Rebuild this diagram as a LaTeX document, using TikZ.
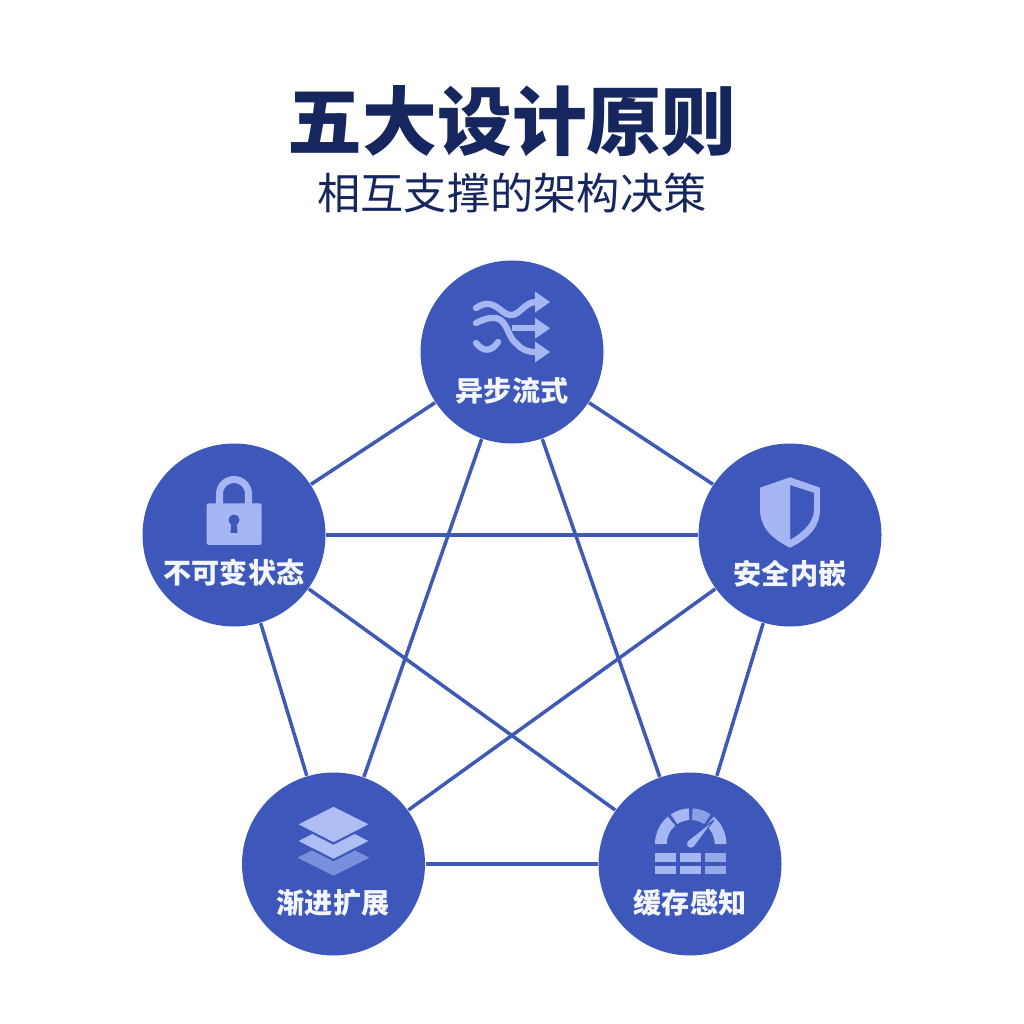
\documentclass[tikz,border=0pt]{standalone}
\usepackage{fontspec}
\usepackage{xcolor}
\setmainfont{Noto Sans CJK SC}
\usetikzlibrary{arrows.meta,positioning}
\definecolor{titleblue}{HTML}{16265F}
\definecolor{nodeblue}{HTML}{3D58BA}
\definecolor{linkblue}{HTML}{3F59B6}
\definecolor{iconblue}{HTML}{A5B6F3}
\definecolor{labelwhite}{HTML}{F4F6FE}
\tikzset{%
	principle/.style = {circle, fill=nodeblue, minimum size=1.83cm, inner sep=0pt}, % Circle
	caption/.style   = {text=labelwhite, font=\fontsize{8}{8}\selectfont\bfseries, inner sep=0pt},
	link/.style      = {draw=linkblue, line width=1pt},
	icon/.style      = {fill=iconblue, draw=none},
	flow/.style      = {draw=iconblue, line width=1.8pt, line cap=round},
}
\begin{document}
\begin{tikzpicture}[x=0.1cm,y=-0.1cm]
	\useasboundingbox (0,0) rectangle (102.4,102.4);
	\node [text=titleblue,font=\fontsize{21.3}{21.3}\selectfont\bfseries,inner sep=0pt] (title) at (51.2,12.1) {五大设计原则};
	\node [text=titleblue,font=\fontsize{12.3}{12.3}\selectfont,inner sep=0pt] (subtitle) at (51.2,19.3) {相互支撑的架构决策};

	\node [principle] (async) at (51.2,35.2) {};
	\node [principle] (state) at (23.4,53.5) {};
	\node [principle] (secure) at (79,53.5) {};
	\node [principle] (scale) at (33.35,86.4) {};
	\node [principle] (cache) at (69,86.4) {};

	\node [caption] (asynctxt) at (51.2,39.1) {异步流式};
	\node [caption] (statetxt) at (23.4,57.3) {不可变状态};
	\node [caption] (securetxt) at (79,57.4) {安全内嵌};
	\node [caption] (scaletxt) at (33.3,90.3) {渐进扩展};
	\node [caption] (cachetxt) at (69,90.3) {缓存感知};

	\draw [link] (async) -- (state);
	\draw [link] (async) -- (secure);
	\draw [link] (async) -- (scale);
	\draw [link] (async) -- (cache);
	\draw [link] (state) -- (secure);
	\draw [link] (state) -- (scale);
	\draw [link] (state) -- (cache);
	\draw [link] (secure) -- (scale);
	\draw [link] (secure) -- (cache);
	\draw [link] (scale) -- (cache);

	% shuffle arrows
	\draw [flow] (47.6,30.8) .. controls (49.4,29.6) and (50,31.4) .. (51,31.5) .. controls (52,31.6) and (52.4,30.2) .. (53.6,30.2);
	\draw [flow] (47.6,32.3) .. controls (51,30.6) and (50.4,33.6) .. (51.7,34.4) .. controls (52.2,35) and (52.8,35.2) .. (53.6,35.2);
	\draw [flow] (47.6,34.3) .. controls (48.4,35.3) and (49.2,35.1) .. (49.8,34.2);
	\draw [flow,line cap=butt] (51.2,32.83) -- (53.6,32.83);
	\fill [icon] (53.5,29.15) -- (55,30.2) -- (53.5,31.25) -- cycle;
	\fill [icon] (53.5,31.78) -- (55,32.83) -- (53.5,33.88) -- cycle;
	\fill [icon] (53.5,34.15) -- (55,35.2) -- (53.5,36.25) -- cycle;

	% lock
	\draw [draw=iconblue,line width=2pt] (21.95,50.6) -- (21.95,49.4) arc (180:360:1.45) -- (24.85,50.6);
	\fill [icon,rounded corners=0.6] (20.67,50.33) rectangle (26.17,54.5);
	\fill [nodeblue] (23.4,52) circle (0.55);
	\fill [nodeblue] (23.15,52) -- (23.65,52) -- (23.75,53.3) -- (23.05,53.3) -- cycle;

	% shield
	\fill [icon] (79,47.73) -- (76,48.77) -- (76,50.9) .. controls (76,52.6) and (77,53.8) .. (79,54.77) -- cycle;
	\fill [icon,even odd rule] (79,47.73) -- (82,48.77) -- (82,50.9) .. controls (82,52.6) and (81,53.8) .. (79,54.77) -- cycle
		(79,48.5) -- (79,54) .. controls (80.4,53.2) and (81.4,52.2) .. (81.4,50.9) -- (81.4,49.27) -- cycle;

	% layers
	\fill [iconblue!60!nodeblue] (33.35,83.97) -- (36.95,85.77) -- (33.35,87.57) -- (29.75,85.77) -- cycle;
	\filldraw [fill=iconblue!90!white,draw=nodeblue,line width=0.6pt] (33.35,82.2) -- (37.1,84.1) -- (33.35,86) -- (29.6,84.1) -- cycle;
	\filldraw [fill=iconblue!90!white,draw=nodeblue,line width=0.6pt] (33.35,80.55) -- (37.1,82.43) -- (33.35,84.35) -- (29.6,82.43) -- cycle;

	% gauge
	\coordinate (gaugec) at (69.07,84.4);
	\foreach \from/\to/\shade in {180/230/100,236/267/100,273/304/75,310/360/100}{
		\fill [iconblue!\shade!nodeblue] (gaugec) ++(\from:3.57) arc (\from:\to:3.57) -- ++(\to:-1.17) arc (\to:\from:2.4) -- cycle;
	}
	\filldraw [fill=iconblue,draw=nodeblue,line width=0.3pt,line join=round] (71.4,82) -- (69.42,84.7) arc (43:223:0.46) -- cycle;
	\foreach \col/\shade in {65.5/100,68/100,70.53/85}{
		\fill [iconblue!\shade!nodeblue] (\col,85.27) rectangle ++(2.1,0.9);
		\fill [iconblue!\shade!nodeblue] (\col,86.57) rectangle ++(2.1,0.87);
	}
\end{tikzpicture}
\end{document}
